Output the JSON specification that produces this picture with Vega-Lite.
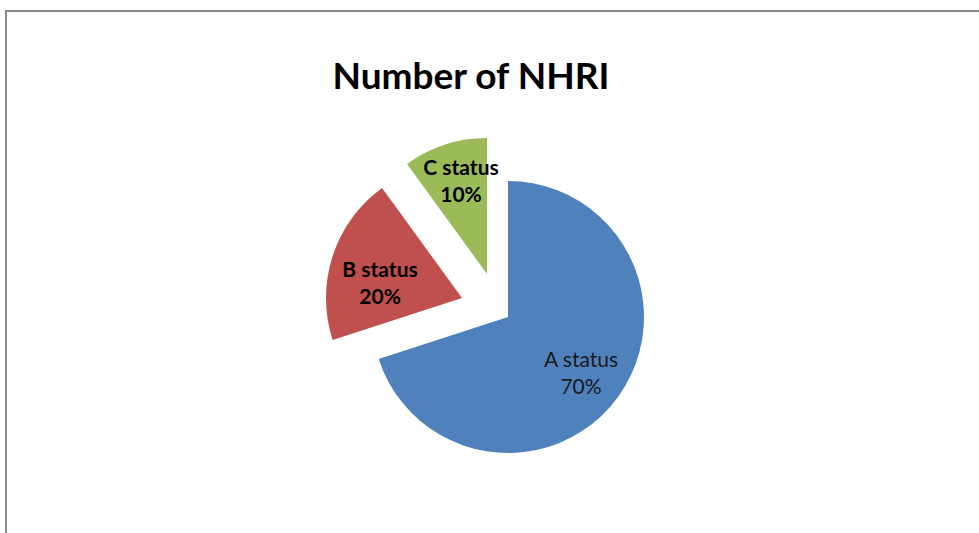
{
  "$schema": "https://vega.github.io/schema/vega-lite/v6.json",
  "width": 976,
  "height": 525,
  "autosize": "none",
  "padding": {"left": 6, "top": 11, "right": -3, "bottom": -3},
  "background": "white",
  "view": {"stroke": "#898989", "strokeWidth": 2},
  "title": {
    "text": "Number of NHRI",
    "font": "Lato",
    "fontSize": 37,
    "fontWeight": "bold",
    "color": "#000000",
    "anchor": "middle",
    "frame": "group",
    "baseline": "alphabetic",
    "offset": -115,
    "dx": -23
  },
  "data": {
    "values": [
      {"category": "A status", "value": 70, "label": "A status\n70%"},
      {"category": "B status", "value": 20, "label": "B status\n20%"},
      {"category": "C status", "value": 10, "label": "C status\n10%"}
    ]
  },
  "transform": [
    {"stack": "value", "groupby": [], "sort": [{"field": "category", "order": "ascending"}], "as": ["start", "end"]}
  ],
  "layer": [
    {
      "transform": [{"filter": "datum.category === 'A status'"}],
      "mark": {"type": "arc", "outerRadius": 136, "fill": "#4F81BD", "xOffset": 14, "yOffset": 43.5},
      "encoding": {
        "theta": {"field": "start", "type": "quantitative", "scale": {"domain": [0, 100]}},
        "theta2": {"field": "end"}
      }
    },
    {
      "transform": [{"filter": "datum.category === 'B status'"}],
      "mark": {"type": "arc", "outerRadius": 136, "fill": "#C0504D", "xOffset": -32, "yOffset": 24.5},
      "encoding": {
        "theta": {"field": "start", "type": "quantitative", "scale": {"domain": [0, 100]}},
        "theta2": {"field": "end"}
      }
    },
    {
      "transform": [{"filter": "datum.category === 'C status'"}],
      "mark": {"type": "arc", "outerRadius": 136, "fill": "#9BBB59", "xOffset": -7, "yOffset": 0.5},
      "encoding": {
        "theta": {"field": "start", "type": "quantitative", "scale": {"domain": [0, 100]}},
        "theta2": {"field": "end"}
      }
    },
    {
      "mark": {"type": "text", "radius": 92, "font": "Lato", "fontSize": 21, "color": "#1a1a1a", "lineBreak": "\n", "lineHeight": 27, "baseline": "middle", "align": "center", "xOffset": 12.6, "yOffset": 33.4},
      "encoding": {
        "theta": {"field": "value", "type": "quantitative", "stack": true, "scale": {"domain": [0, 100]}},
        "order": {"field": "category", "sort": "ascending"},
        "detail": {"field": "category"},
        "text": {"condition": {"test": "datum.category === 'A status'", "field": "label"}, "value": ""}
      }
    },
    {
      "mark": {"type": "text", "radius": 83, "font": "Lato", "fontSize": 21, "fontWeight": "bold", "color": "#000000", "lineBreak": "\n", "lineHeight": 27, "baseline": "middle", "align": "center", "xOffset": -35, "yOffset": 23},
      "encoding": {
        "theta": {"field": "value", "type": "quantitative", "stack": true, "scale": {"domain": [0, 100]}},
        "order": {"field": "category", "sort": "ascending"},
        "detail": {"field": "category"},
        "text": {"condition": {"test": "datum.category === 'B status'", "field": "label"}, "value": ""}
      }
    },
    {
      "mark": {"type": "text", "radius": 96, "font": "Lato", "fontSize": 21, "fontWeight": "bold", "color": "#000000", "lineBreak": "\n", "lineHeight": 27, "baseline": "middle", "align": "center", "xOffset": -3.3, "yOffset": -12.7},
      "encoding": {
        "theta": {"field": "value", "type": "quantitative", "stack": true, "scale": {"domain": [0, 100]}},
        "order": {"field": "category", "sort": "ascending"},
        "detail": {"field": "category"},
        "text": {"condition": {"test": "datum.category === 'C status'", "field": "label"}, "value": ""}
      }
    }
  ]
}
